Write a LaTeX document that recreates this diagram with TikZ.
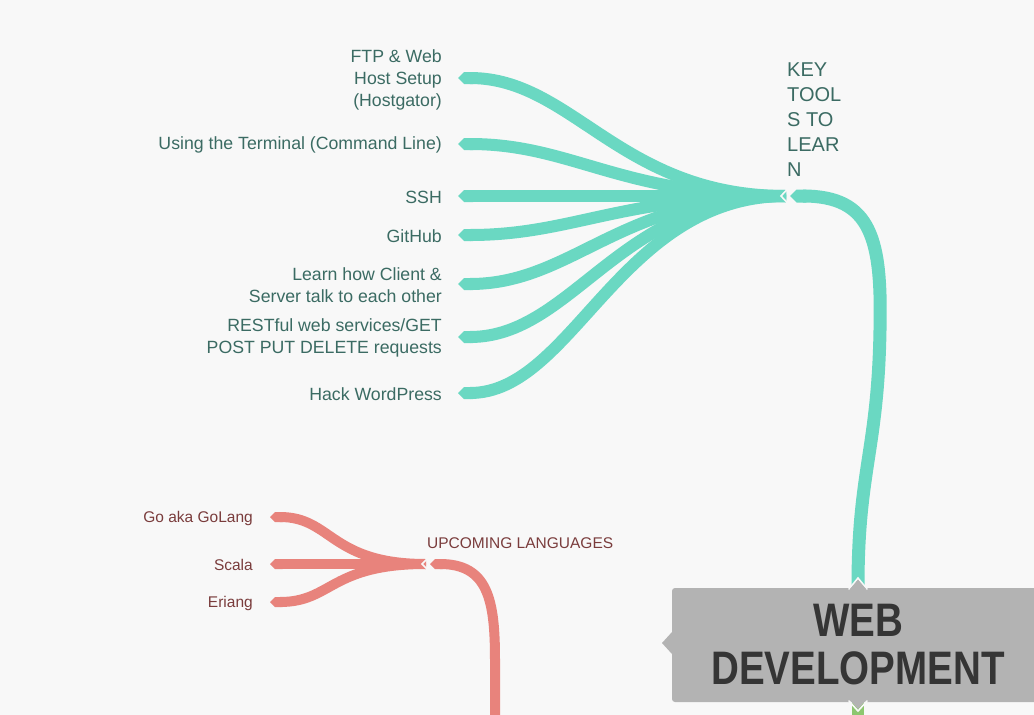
\documentclass[tikz,border=0pt]{standalone}
\usepackage{fontspec}
\setmainfont{Liberation Sans}
\newfontfamily\bigfont[FakeStretch=0.82]{Liberation Sans Bold}
\usetikzlibrary{arrows.meta,calc}
\definecolor{bgc}{HTML}{F8F8F8}
\definecolor{teal1}{HTML}{6AD8C2}
\definecolor{tealtxt}{HTML}{3B6B63}
\definecolor{red1}{HTML}{E8837C}
\definecolor{redtxt}{HTML}{7A3C3C}
\definecolor{boxgray}{HTML}{B3B3B3}
\definecolor{bigtxt}{HTML}{353535}
\definecolor{green1}{HTML}{8DC76F}
\tikzset{
  tlabel/.style={anchor=east,text=tealtxt,align=right,font=\fontsize{17.7}{22}\selectfont,inner sep=0pt},
  rlabel/.style={anchor=east,text=redtxt,align=right,font=\fontsize{15.5}{19}\selectfont,inner sep=0pt},
  tbranch/.style={draw=teal1,line width=12pt,{Triangle Cap[]}-},
  ttrunk/.style={draw=teal1,line width=13pt,{Triangle Cap[]}-},
  rbranch/.style={draw=red1,line width=10pt,{Triangle Cap[]}-},
  rtrunk/.style={draw=red1,line width=10pt,{Triangle Cap[]}-},
  notch/.style={draw=bgc,line width=1.6pt,line cap=round,line join=miter},
}
\begin{document}
\begin{tikzpicture}[x=1pt,y=-1pt]
\fill[bgc] (0,0) rectangle (1034,715);
\useasboundingbox (0,0) rectangle (1034,715);
\begin{scope}
\clip (0,0) rectangle (1034,715);
% teal labels
\node[tlabel] (l1) at (442,80) {FTP \& Web\\Host Setup\\(Hostgator)};
\node[tlabel] (l2) at (442,145) {Using the Terminal (Command Line)};
\node[tlabel] (l3) at (442,197) {SSH};
\node[tlabel] (l4) at (442,236) {GitHub};
\node[tlabel] (l5) at (442,285) {Learn how Client \&\\Server talk to each other};
\node[tlabel] (l6) at (442,338) {RESTful web services/GET\\POST PUT DELETE requests};
\node[tlabel] (l7) at (442,394) {Hack WordPress};
\node[anchor=north west,text=tealtxt,align=left,font=\fontsize{20}{25}\selectfont,inner sep=0pt] (key) at (787,63) {KEY\\TOOL\\S TO\\LEAR\\N};
\coordinate (b1) at (458,78);
\coordinate (b2) at (458,144);
\coordinate (b3) at (458,196);
\coordinate (b4) at (458,235);
\coordinate (b5) at (458,284);
\coordinate (b6) at (458,337);
\coordinate (b7) at (458,393);
\coordinate (hubT) at (786,196);
\coordinate (trT) at (790,196);
% teal branches
\foreach \b in {b1,b2,b3,b4,b5,b6,b7}{
  \draw[tbranch] (\b) .. controls ($(\b)+(115,0)$) and (620,196) .. (hubT);
}
% teal trunk
\draw[ttrunk] (trT) .. controls (872,196) and (882,240) .. (880,330) .. controls (878,450) and (858,470) .. (858,586) coordinate (trB);
\draw[notch] (788,188.5) -- (781,196) -- (788,203.5);
% red
\node[rlabel] (r1) at (253,518) {Go aka GoLang};
\node[rlabel] (r2) at (253,565) {Scala};
\node[rlabel] (r3) at (253,603) {Eriang};
\node[anchor=west,text=redtxt,font=\fontsize{15.5}{19}\selectfont,inner sep=0pt] (up) at (427,543) {UPCOMING LANGUAGES};
\coordinate (c1) at (270,517);
\coordinate (c2) at (270,564);
\coordinate (c3) at (270,602);
\coordinate (hubR) at (426,564);
\coordinate (trR) at (430,564);
\foreach \c in {c1,c2,c3}{
  \draw[rbranch] (\c) .. controls ($(\c)+(62,0)$) and (330,564) .. (hubR);
}
\draw[rtrunk] (trR) .. controls (488,564) and (495,600) .. (495,660) -- (495,725);
\draw[notch] (428,558) -- (422,564) -- (428,570);
% green below
\draw[draw=green1,line width=12pt] (858,700) -- (858,725);
% central box
\fill[boxgray,rounded corners=3pt] (672,588) rectangle (1045,702);
\fill[boxgray] (672,632) -- (662,643) -- (672,654) -- cycle;
\draw[notch,fill=boxgray] (849,589) -- (858,578) -- (867,589);
\fill[boxgray] (850,589) -- (858,580) -- (866,589) -- cycle;
\draw[notch] (849,701) -- (858,711) -- (867,701);
\fill[boxgray] (850,700) -- (858,709) -- (866,700) -- cycle;
\node[text=bigtxt,align=center,font=\bigfont\fontsize{47}{48}\selectfont,inner sep=0pt] (web) at (858,645) {WEB\\DEVELOPMENT};
\end{scope}
\end{tikzpicture}
\end{document}
